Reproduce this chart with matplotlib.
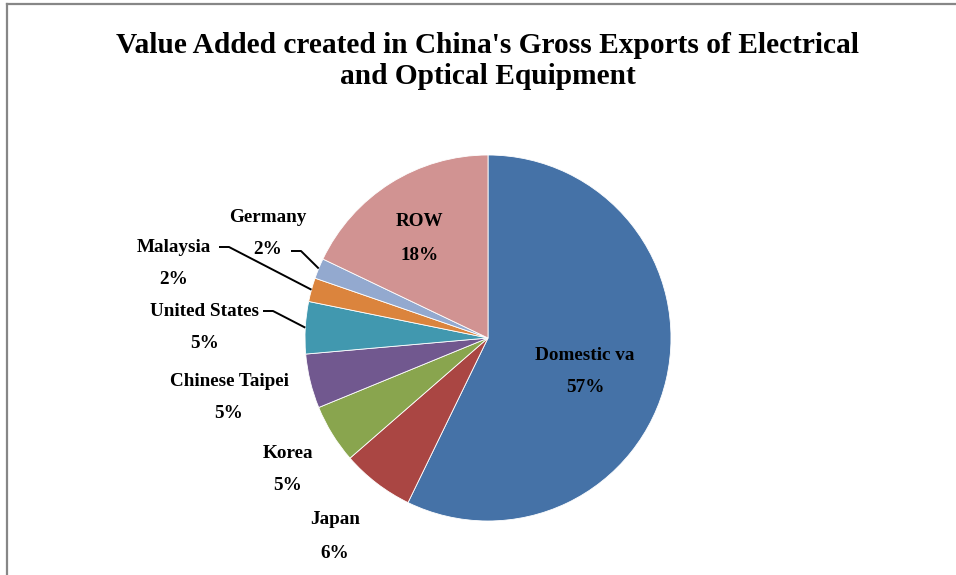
import matplotlib.pyplot as plt
import numpy as np

# chart data (share of gross exports, %)
names = ["Domestic va", "Japan", "Korea", "Chinese Taipei", "United States",
         "Malaysia", "Germany", "ROW"]
shares = [57.2, 6.4, 5.2, 4.8, 4.6, 2.1, 1.8, 17.9]
colors = ["#4572A7", "#AA4643", "#89A54E", "#71588F", "#4198AF",
          "#DB843D", "#93A9CF", "#D19392"]

title = "Value Added created in China's Gross Exports of Electrical\nand Optical Equipment"

W, H = 956, 575
fig = plt.figure(figsize=(W / 100, H / 100), dpi=100)
ax = fig.add_axes([0, 0, 1, 1])

cx, cy, r = 488, H - 338, 183
wedges, _ = ax.pie(shares, colors=colors, startangle=90, counterclock=False,
                   center=(cx, cy), radius=r, frame=True,
                   wedgeprops=dict(edgecolor="white", linewidth=0.6))
ax.set_xlim(0, W)
ax.set_ylim(0, H)
ax.set_aspect("equal")
ax.axis("off")

font = dict(family=["Liberation Serif", "DejaVu Serif"], fontweight="bold",
            fontsize=13.8, color="black", ha="center", va="center")

# label positions in pixels (name line, percent line below)
label_pos = {
    "Domestic va": (585, 355),
    "Japan": (335, 520),
    "Korea": (288, 453),
    "Chinese Taipei": (229, 381),
    "United States": (205, 311),
    "Malaysia": (174, 247),
    "Germany": (268, 217),
    "ROW": (420, 222),
}
gap = 33
for name, val in zip(names, shares):
    x, y = label_pos[name]
    ax.text(x, H - y, name, **font)
    ax.text(x, H - y - gap, f"{val:.0f}%", **font)

# leader lines: (start x, start y in px)
leaders = {
    "Germany": (291, 251),
    "Malaysia": (219, 247),
    "United States": (263, 311),
}
for w, name in zip(wedges, names):
    if name in leaders:
        sx, sy = leaders[name]
        mid = np.deg2rad((w.theta1 + w.theta2) / 2)
        ex, ey = cx + r * np.cos(mid), cy + r * np.sin(mid)
        ax.plot([sx, sx + 10, ex], [H - sy, H - sy, ey], color="black", lw=1.4,
                solid_capstyle="butt")

ax.text(488, H - 61, title, ha="center", va="center", fontsize=21.2,
        fontweight="bold", family=["Liberation Serif", "DejaVu Serif"],
        linespacing=1.22)

# chart frame (top and left edges visible)
ax.plot([7, W], [H - 4, H - 4], color="#878787", lw=1.6, clip_on=False)
ax.plot([7, 7], [H - 4, 0], color="#878787", lw=1.6, clip_on=False)

fig.savefig("out.png", dpi=100)
